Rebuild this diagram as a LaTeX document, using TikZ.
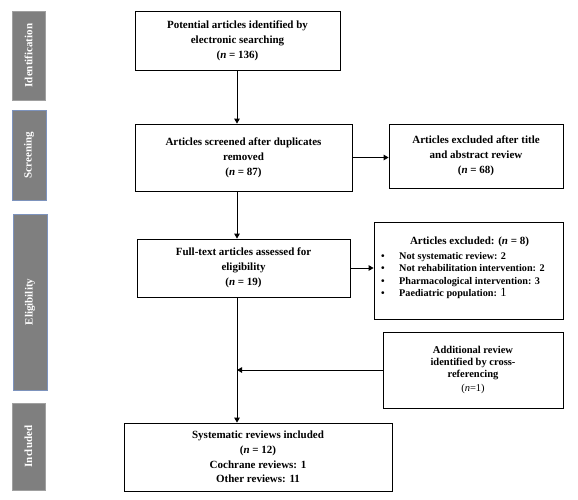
\documentclass[tikz,border=0pt]{standalone}
\usepackage{fontspec}
\setmainfont{Liberation Serif}
\usetikzlibrary{arrows.meta}
\definecolor{sidefill}{HTML}{7F7F7F}
\definecolor{sideedgeA}{HTML}{A0A0A0}
\definecolor{sideedgeB}{HTML}{7D93BD}
\begin{document}
\begin{tikzpicture}[x=1pt,y=-1pt,
  box/.style={draw=black, line width=0.8pt, fill=white, inner sep=2pt, align=center,
              font=\bfseries\fontsize{11}{14.8}\selectfont},
  plain/.style={inner sep=0pt, align=center},
  side/.style={fill=sidefill, line width=0.6pt, rotate=90, inner sep=0pt,
               text=white, font=\bfseries\fontsize{11}{12}\selectfont},
  arr/.style={line width=1pt, -{Triangle[length=5pt,width=5.5pt]}}]
\useasboundingbox (0,0) rectangle (578,499);

% phase bars
\node[side, draw=sideedgeA, minimum width=89pt, minimum height=33pt] (s1) at (28.5,55.5) {Identification};
\node[side, draw=sideedgeB, minimum width=90pt, minimum height=34pt] (s2) at (29,155) {Screening};
\node[side, draw=sideedgeB, minimum width=176pt, minimum height=34pt] (s3) at (30,302) {Eligibility};
\node[side, draw=sideedgeA, minimum width=87pt, minimum height=33pt] (s4) at (28.5,446.5) {Included};

% boxes
\node[box, minimum width=205pt, minimum height=59pt] (b1) at (237.5,40.5)
  {Potential articles identified by\\electronic searching\\(\textit{n} = 136)};
\node[box, minimum width=217pt, minimum height=67pt] (b2) at (243.5,157.5)
  {Articles screened after duplicates\\removed\\(\textit{n} = 87)};
\node[box, minimum width=174pt, minimum height=64pt] (b3) at (476,156)
  {Articles excluded after title\\and abstract review\\(\textit{n} = 68)};
\node[box, minimum width=213pt, minimum height=58pt] (b4) at (243.5,268)
  {Full-text articles assessed for\\eligibility\\(\textit{n} = 19)};
\node[box, minimum width=189pt, minimum height=97pt] (b5) at (468.5,270.5) {};
\node[plain, font=\bfseries\fontsize{11}{12}\selectfont] (b5t) at (469.5,242)
  {Articles excluded: (\textit{n} = 8)};
\node[plain, anchor=north west, align=left, font=\bfseries\fontsize{10.2}{12.5}\selectfont] (b5l) at (381,252)
  {\makebox[18pt][l]{\textbullet}Not systematic review: 2\\
   \makebox[18pt][l]{\textbullet}Not rehabilitation intervention: 2\\
   \makebox[18pt][l]{\textbullet}Pharmacological intervention: 3\\
   \makebox[18pt][l]{\textbullet}Paediatric population: {\mdseries\fontsize{12.5}{12.5}\selectfont 1}};
\node[box, minimum width=180pt, minimum height=76pt, font=\bfseries\fontsize{10.5}{12.3}\selectfont] (b6) at (473,370)
  {Additional review\\identified by cross-\\referencing\\[2pt]{\mdseries(\textit{n}=1)}};
\node[box, minimum width=268pt, minimum height=68pt] (b7) at (258,457)
  {Systematic reviews included\\(\textit{n} = 12)\\Cochrane reviews: 1\\Other reviews: 11};

% connectors
\coordinate (spine) at (237,0);
\draw[arr] (spine |- b1.south) -- (spine |- b2.north);
\draw[arr] (b2.east) -- (b2.east -| b3.west);
\draw[arr] (spine |- b2.south) -- (spine |- b4.north);
\draw[arr] (b4.east) -- (b4.east -| b5.west);
\draw[arr] (spine |- b4.south) -- (spine |- b7.north);
\draw[arr] (b6.west) -- (b6.west -| spine);
\end{tikzpicture}
\end{document}
